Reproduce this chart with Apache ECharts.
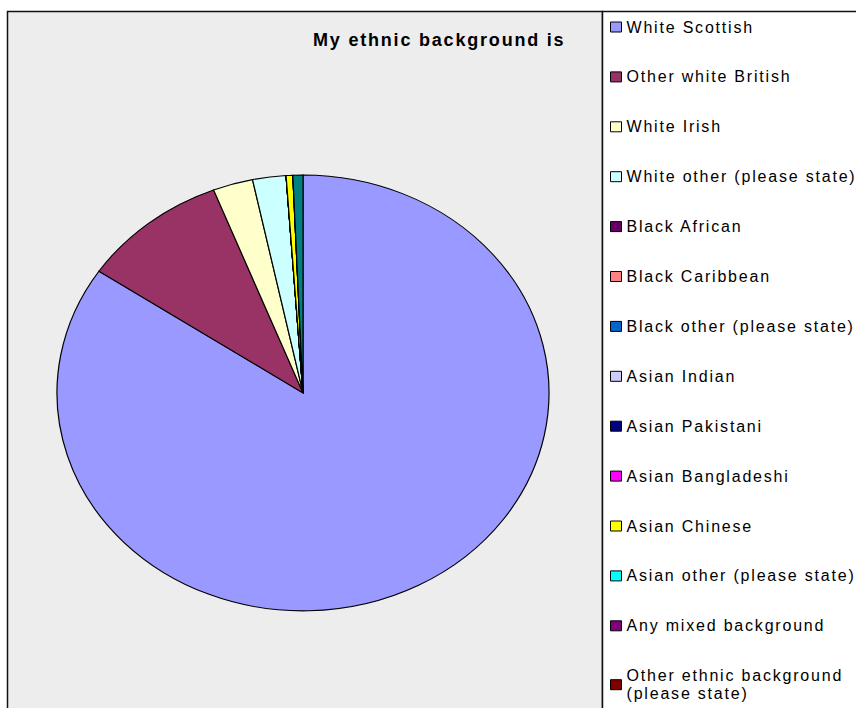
<!DOCTYPE html>
<html>
<head>
<meta charset="utf-8">
<script src="https://cdn.jsdelivr.net/npm/echarts@6/dist/echarts.min.js"></script>
<style>
  html, body { margin: 0; padding: 0; background: #fff; }
  #chart { width: 856px; height: 708px; }
  /* widen the glyph spacing of every label */
  #chart text { letter-spacing: 1.8px; }
</style>
</head>
<body>
<div id="chart"></div>
<script>
// Survey answers, one slice per category, clockwise from twelve o'clock
const categories = [
  'White Scottish',
  'Other white British',
  'White Irish',
  'White other (please state)',
  'Black African',
  'Black Caribbean',
  'Black other (please state)',
  'Asian Indian',
  'Asian Pakistani',
  'Asian Bangladeshi',
  'Asian Chinese',
  'Asian other (please state)',
  'Any mixed background',
  'Other ethnic background\n(please state)',
  'No answer'
];
const counts = [385, 44, 12, 10, 0, 0, 0, 0, 0, 0, 2, 0, 0, 0, 3];
const sliceColors = [
  '#9999FF', '#993366', '#FFFFCC', '#CCFFFF', '#660066', '#FF8080', '#0066CC',
  '#CCCCFF', '#000080', '#FF00FF', '#FFFF00', '#00FFFF', '#800080', '#800000', '#008080'
];
// Legend lists the named survey options
const legendNames = categories.slice(0, 14);
const chartTitle = 'My ethnic background is';

// Pie geometry: an ellipse, drawn as a circle squashed vertically
const PIE_CX = 303, PIE_CY = 393, PIE_RX = 246, PIE_RY = 218;

const total = counts.reduce((a, b) => a + b, 0);
const startShare = [];
counts.reduce((acc, v, i) => { startShare[i] = acc; return acc + v; }, 0);

const chart = echarts.init(document.getElementById('chart'), null, { renderer: 'svg' });

const series = categories.map((name, i) => ({
  type: 'custom',
  name: name,
  coordinateSystem: 'none',
  data: [[counts[i]]],
  itemStyle: { color: sliceColors[i] },
  z: 2,
  renderItem: function (params, api) {
    const v = api.value(0);
    const a0 = -Math.PI / 2 + 2 * Math.PI * startShare[i] / total;
    const a1 = a0 + 2 * Math.PI * v / total;
    return {
      type: 'sector',
      originX: PIE_CX,
      originY: PIE_CY,
      scaleY: PIE_RY / PIE_RX,
      shape: { cx: PIE_CX, cy: PIE_CY, r0: 0, r: PIE_RX, startAngle: a0, endAngle: a1, clockwise: true },
      style: { fill: sliceColors[i], stroke: '#000', lineWidth: 1.2, strokeNoScale: true }
    };
  }
}));

chart.setOption({
  animation: false,
  backgroundColor: '#ffffff',
  title: {
    text: chartTitle,
    left: 313,
    top: 31,
    padding: 0,
    textStyle: { fontFamily: 'Liberation Sans', fontWeight: 'bold', fontSize: 18, color: '#000', lineHeight: 18 }
  },
  legend: {
    data: legendNames,
    orient: 'vertical',
    left: 610,
    top: 18,
    height: 760,
    padding: 0,
    itemGap: 31.9,
    itemWidth: 11,
    itemHeight: 10,
    icon: 'rect',
    selectedMode: false,
    itemStyle: { borderColor: '#000', borderWidth: 1 },
    textStyle: { fontFamily: 'Liberation Sans', fontSize: 16, color: '#000', lineHeight: 18 }
  },
  graphic: [
    {
      type: 'rect', z: 0, silent: true,
      shape: { x: 7.5, y: 11.5, width: 595, height: 720 },
      style: { fill: '#EDEDED', stroke: '#111', lineWidth: 1.5 }
    },
    {
      type: 'rect', z: 0, silent: true,
      shape: { x: 602.5, y: 11.5, width: 300, height: 720 },
      style: { fill: '#FFFFFF', stroke: '#111', lineWidth: 1.5 }
    }
  ],
  series: series
});
</script>
</body>
</html>
